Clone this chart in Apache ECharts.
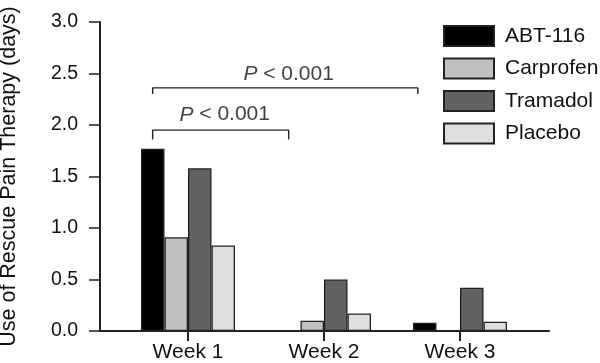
<!DOCTYPE html>
<html>
<head>
<meta charset="utf-8">
<script src="https://cdn.jsdelivr.net/npm/echarts@6/dist/echarts.min.js"></script>
<style>
  html, body { margin: 0; padding: 0; background: #fff; }
  #chart { width: 600px; height: 363px; }
</style>
</head>
<body>
<div id="chart"></div>
<script>
// chart data
var weeks = ["Week 1", "Week 2", "Week 3"];
var groups = ["ABT-116", "Carprofen", "Tramadol", "Placebo"];
var abt116 = [1.77, 0, 0.08];
var carprofen = [0.91, 0.1, 0];
var tramadol = [1.58, 0.5, 0.42];
var placebo = [0.83, 0.17, 0.09];
var yTicks = [0, 0.5, 1.0, 1.5, 2.0, 2.5, 3.0];

// significance brackets, x in category units (axis start = 0, Week 1 = 0.647), y in days
var bracketLow = [[0.387, 1.86], [0.387, 1.95], [1.387, 1.95], [1.387, 1.86]];
var bracketHigh = [[0.387, 2.30], [0.387, 2.36], [2.337, 2.36], [2.337, 2.30]];
var pLabels = [[0.917, 2.10], [1.387, 2.49]];
// L-shaped axis frame
var axisFrame = [[0, 3], [0, 0], [3.301, 0]];

var colors = ["#000000", "#c0c0c0", "#626262", "#dedede"];
var values = [abt116, carprofen, tramadol, placebo];

var chart = echarts.init(document.getElementById("chart"));

var barSeries = groups.map(function (name, i) {
  return {
    name: name,
    type: "bar",
    xAxisIndex: 1,
    yAxisIndex: 1,
    barWidth: 23.5,
    barGap: 0,
    z: 2,
    itemStyle: {
      color: colors[i],
      borderColor: "#222",
      borderWidth: 1.3,
    },
    data: values[i],
  };
});

function polyline(data, width) {
  return {
    type: "line",
    xAxisIndex: 2,
    yAxisIndex: 2,
    silent: true,
    clip: false,
    z: 10,
    symbol: "none",
    lineStyle: { color: "#222", width: width },
    data: data,
  };
}

chart.setOption({
  animation: false,
  textStyle: { fontFamily: "Liberation Sans, Arial, sans-serif" },
  grid: [
    { left: 100, right: 51, top: 22, bottom: 32, outerBoundsMode: "none" },
    { left: 120, right: 72, top: 22, bottom: 32, outerBoundsMode: "none" },
    { left: 100, right: 51, top: 22, bottom: 32, outerBoundsMode: "none" },
  ],
  legend: {
    data: groups,
    orient: "vertical",
    left: 443,
    top: 25,
    padding: 0,
    itemWidth: 50,
    itemHeight: 20,
    itemGap: 10.5,
    icon: "rect",
    selectedMode: false,
    textStyle: {
      fontSize: 21,
      color: "#111",
      padding: [0, 0, 0, 6],
    },
  },
  xAxis: [
    {
      type: "value",
      gridIndex: 0,
      min: 0,
      max: 3.301,
      axisLine: { show: true, lineStyle: { color: "#222", width: 2 } },
      axisTick: { show: false },
      axisLabel: { show: false },
      splitLine: { show: false },
    },
    {
      type: "category",
      gridIndex: 1,
      data: weeks,
      axisLine: { show: true, lineStyle: { color: "#222", width: 2 } },
      axisTick: {
        show: true,
        alignWithLabel: true,
        length: 10,
        lineStyle: { color: "#222", width: 2 },
      },
      axisLabel: { fontSize: 21, color: "#111", margin: 11 },
    },
    { type: "value", gridIndex: 2, min: 0, max: 3.301, show: false },
  ],
  yAxis: [
    {
      type: "value",
      gridIndex: 0,
      min: 0,
      max: 3,
      interval: 0.5,
      name: "Use of Rescue Pain Therapy (days)",
      nameLocation: "middle",
      nameGap: 80,
      nameTextStyle: { fontSize: 21.5, color: "#111" },
      axisLine: { show: true, lineStyle: { color: "#222", width: 2 } },
      axisTick: { show: true, length: 11, lineStyle: { color: "#222", width: 1.5 } },
      axisLabel: {
        fontSize: 19.5,
        color: "#111",
        margin: 22,
        formatter: function (v) {
          return yTicks.indexOf(v) >= 0 ? v.toFixed(1) : "";
        },
      },
      splitLine: { show: false },
    },
    { type: "value", gridIndex: 1, min: 0, max: 3, show: false },
    { type: "value", gridIndex: 2, min: 0, max: 3, show: false },
  ],
  series: barSeries.concat([
    polyline(axisFrame, 2),
    polyline(bracketLow, 1.4),
    polyline(bracketHigh, 1.4),
    {
      type: "scatter",
      xAxisIndex: 2,
      yAxisIndex: 2,
      silent: true,
      symbolSize: 0,
      label: {
        show: true,
        position: "inside",
        formatter: "{i|P} < 0.001",
        fontSize: 21,
        color: "#111",
        rich: {
          i: { fontStyle: "italic", fontSize: 21, color: "#111" },
        },
      },
      data: pLabels,
    },
  ]),
});
</script>
</body>
</html>
